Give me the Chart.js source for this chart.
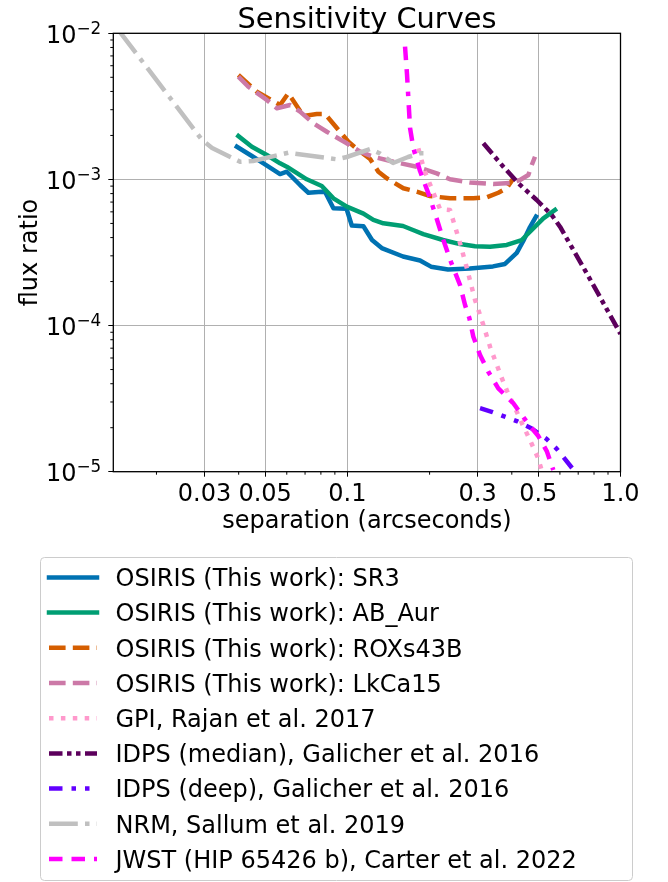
<!DOCTYPE html>
<html>
<head>
<meta charset="utf-8">
<script src="https://cdn.jsdelivr.net/npm/chart.js@4.4.1/dist/chart.umd.min.js"></script>
<style>
  html, body { margin: 0; padding: 0; background: #fff; }
  canvas { display: block; }
</style>
</head>
<body>
<canvas id="sens" width="668" height="882"></canvas>
<script>
// ---- data (separation in arcsec, flux ratio) ----
const sr3Sep  = [0.0394, 0.0447, 0.0493, 0.0567, 0.0600, 0.0671, 0.0720, 0.0806, 0.0829, 0.0889, 0.0993, 0.1038, 0.1145, 0.1231, 0.1336, 0.1599, 0.1845, 0.2024, 0.2336, 0.2812, 0.3414, 0.3777, 0.4170, 0.4406, 0.4663, 0.4905];
const sr3Flux = [1.675e-3, 1.446e-3, 1.289e-3, 1.089e-3, 1.129e-3, 9.16e-4, 8.11e-4, 8.24e-4, 8.20e-4, 6.34e-4, 6.30e-4, 4.84e-4, 4.78e-4, 3.85e-4, 3.39e-4, 2.97e-4, 2.79e-4, 2.53e-4, 2.42e-4, 2.46e-4, 2.54e-4, 2.64e-4, 3.14e-4, 3.79e-4, 4.72e-4, 5.56e-4];

const abAurSep  = [0.0399, 0.0447, 0.0507, 0.0567, 0.0600, 0.0710, 0.0806, 0.0889, 0.0995, 0.1145, 0.1245, 0.1354, 0.1599, 0.1739, 0.1897, 0.2240, 0.2585, 0.2934, 0.3329, 0.3833, 0.4348, 0.4732, 0.5218, 0.5758];
const abAurFlux = [1.982e-3, 1.675e-3, 1.469e-3, 1.289e-3, 1.222e-3, 1.002e-3, 9.02e-4, 7.43e-4, 6.51e-4, 5.84e-4, 5.28e-4, 5.01e-4, 4.80e-4, 4.51e-4, 4.23e-4, 3.85e-4, 3.61e-4, 3.49e-4, 3.46e-4, 3.56e-4, 3.85e-4, 4.51e-4, 5.42e-4, 6.18e-4];

const roxsSep  = [0.0399, 0.0466, 0.0567, 0.0608, 0.0690, 0.0773, 0.0829, 0.1009, 0.1097, 0.1211, 0.1299, 0.1394, 0.1603, 0.1795, 0.2007, 0.2376, 0.2892, 0.3238, 0.3570, 0.3833, 0.4076];
const roxsFlux = [5.18e-3, 3.99e-3, 3.23e-3, 3.89e-3, 2.72e-3, 2.80e-3, 2.80e-3, 1.81e-3, 1.59e-3, 1.38e-3, 1.129e-3, 1.018e-3, 8.70e-4, 8.24e-4, 7.70e-4, 7.43e-4, 7.43e-4, 7.54e-4, 8.11e-4, 8.70e-4, 1.031e-3];

const lkcaSep  = [0.0399, 0.0434, 0.0507, 0.0552, 0.0617, 0.0671, 0.0751, 0.0841, 0.0995, 0.1113, 0.1245, 0.1474, 0.1795, 0.2124, 0.2376, 0.2812, 0.3422, 0.3940, 0.4286, 0.4598, 0.4732, 0.4864];
const lkcaFlux = [5.05e-3, 4.31e-3, 3.50e-3, 3.07e-3, 3.23e-3, 2.91e-3, 2.42e-3, 2.12e-3, 1.767e-3, 1.548e-3, 1.430e-3, 1.322e-3, 1.222e-3, 1.101e-3, 1.002e-3, 9.53e-4, 9.30e-4, 9.45e-4, 9.91e-4, 1.072e-3, 1.256e-3, 1.430e-3];

const gpiSep  = [0.1819, 0.1872, 0.1925, 0.2184, 0.2376, 0.2585, 0.2719, 0.2934, 0.3147, 0.3329, 0.3471, 0.3674, 0.3842, 0.4111, 0.4358, 0.4663, 0.4989, 0.5205];
const gpiFlux = [1.633e-3, 1.337e-3, 1.124e-3, 6.27e-4, 6.18e-4, 3.67e-4, 2.60e-4, 1.496e-4, 1.009e-4, 7.17e-5, 5.81e-5, 4.38e-5, 3.57e-5, 2.73e-5, 2.14e-5, 1.647e-5, 1.241e-5, 9.49e-6];

const idpsMedSep  = [0.3147, 0.3724, 0.4225, 0.4935, 0.5600, 0.6006, 0.6720, 0.7520, 0.8413, 1.0, 1.039];
const idpsMedFlux = [1.767e-3, 1.222e-3, 9.41e-4, 7.23e-4, 5.71e-4, 4.75e-4, 3.29e-4, 2.28e-4, 1.568e-4, 8.76e-5, 7.72e-5];

const idpsDeepSep  = [0.3060, 0.3377, 0.3724, 0.4170, 0.4732, 0.5370, 0.5841, 0.6647];
const idpsDeepFlux = [2.72e-5, 2.57e-5, 2.40e-5, 2.22e-5, 1.975e-5, 1.673e-5, 1.434e-5, 1.060e-5];

const nrmSep  = [0.01451, 0.02938, 0.03197, 0.04048, 0.04516, 0.06081, 0.09146, 0.0995, 0.1211, 0.1317, 0.1470, 0.1668, 0.1845, 0.2007];
const nrmFlux = [1.053e-2, 1.861e-3, 1.641e-3, 1.322e-3, 1.337e-3, 1.524e-3, 1.373e-3, 1.424e-3, 1.615e-3, 1.505e-3, 1.295e-3, 1.424e-3, 1.510e-3, 1.510e-3];

const jwstSep  = [0.1626, 0.1654, 0.1696, 0.1744, 0.1845, 0.1979, 0.2094, 0.2246, 0.2396, 0.2585, 0.2697, 0.2796, 0.2892, 0.3060, 0.3281, 0.3570, 0.4052, 0.4598, 0.5002, 0.5370, 0.5676];
const jwstFlux = [8.10e-3, 5.18e-3, 2.25e-3, 1.641e-3, 1.142e-3, 8.04e-4, 5.86e-4, 3.85e-4, 2.72e-4, 1.894e-4, 1.383e-4, 1.126e-4, 8.39e-5, 6.29e-5, 4.83e-5, 3.72e-5, 2.94e-5, 2.12e-5, 1.754e-5, 1.385e-5, 1.027e-5];

// ---- ticks ----
const xTickValues = [0.03, 0.05, 0.1, 0.3, 0.5, 1.0];
const xTickLabels = ['0.03', '0.05', '0.1', '0.3', '0.5', '1.0'];
const xMinorTicks = [0.02, 0.04, 0.06, 0.07, 0.08, 0.09, 0.2, 0.4, 0.6, 0.7, 0.8, 0.9];
const yTickValues = [1e-5, 1e-4, 1e-3, 1e-2];
const yTickExps   = ['\u22125', '\u22124', '\u22123', '\u22122'];
const yMinorTicks = [2e-5, 3e-5, 4e-5, 5e-5, 6e-5, 7e-5, 8e-5, 9e-5, 2e-4, 3e-4, 4e-4, 5e-4, 6e-4, 7e-4, 8e-4, 9e-4, 2e-3, 3e-3, 4e-3, 5e-3, 6e-3, 7e-3, 8e-3, 9e-3];

const LW = 4.5;
const FONT = '"DejaVu Sans", sans-serif';
const DASHED  = [16.6, 7.2];
const DOTTED  = [4.5, 7.4];
const DASHDOT = [28.8, 7.2, 4.5, 7.2];

const series = [
  { label: 'OSIRIS (This work): SR3',             sep: sr3Sep,      flux: sr3Flux,      color: '#0072B2', dash: [] },
  { label: 'OSIRIS (This work): AB_Aur',          sep: abAurSep,    flux: abAurFlux,    color: '#009E73', dash: [] },
  { label: 'OSIRIS (This work): ROXs43B',         sep: roxsSep,     flux: roxsFlux,     color: '#D55E00', dash: DASHED },
  { label: 'OSIRIS (This work): LkCa15',          sep: lkcaSep,     flux: lkcaFlux,     color: '#CC79A7', dash: DASHED },
  { label: 'GPI, Rajan et al. 2017',              sep: gpiSep,      flux: gpiFlux,      color: '#FF99CC', dash: DOTTED },
  { label: 'IDPS (median), Galicher et al. 2016', sep: idpsMedSep,  flux: idpsMedFlux,  color: '#5C005C', dash: [13.5, 4.5, 4.5, 4.5, 4.5, 4.5] },
  { label: 'IDPS (deep), Galicher et al. 2016',   sep: idpsDeepSep, flux: idpsDeepFlux, color: '#6200FF', dash: [13.5, 9, 4.5, 9, 4.5, 9] },
  { label: 'NRM, Sallum et al. 2019',             sep: nrmSep,      flux: nrmFlux,      color: '#C0C0C0', dash: DASHDOT },
  { label: 'JWST (HIP 65426 b), Carter et al. 2022', sep: jwstSep,  flux: jwstFlux,     color: '#FF00FF', dash: [13.5, 9, 13.5, 9, 4.5, 9] },
];

const datasets = series.map((s, i) => ({
  label: s.label,
  data: s.sep.map((v, k) => ({ x: v, y: s.flux[k] })),
  borderColor: s.color,
  borderWidth: LW,
  borderDash: s.dash,
  borderCapStyle: s.dash.length ? 'butt' : 'square',
  borderJoinStyle: 'round',
  pointRadius: 0,
  tension: 0,
  fill: false,
  clip: 0,
  order: series.length - i,   // later series drawn on top, like matplotlib
}));

function line(ctx, x1, y1, x2, y2) { ctx.beginPath(); ctx.moveTo(x1, y1); ctx.lineTo(x2, y2); ctx.stroke(); }

const decorations = {
  id: 'decorations',
  afterDatasetsDraw(chart) {
    const { ctx, chartArea: a, scales: { x, y } } = chart;
    ctx.save();
    ctx.strokeStyle = '#000';
    ctx.lineWidth = 1;
    xMinorTicks.forEach(v => { const px = x.getPixelForValue(v); line(ctx, px, a.bottom, px, a.bottom + 3); });
    yMinorTicks.forEach(v => { const py = y.getPixelForValue(v); line(ctx, a.left - 3, py, a.left, py); });
    ctx.lineWidth = 1.3;
    ctx.strokeRect(a.left, a.top, a.right - a.left, a.bottom - a.top);
    ctx.restore();
  },
  afterDraw(chart) {
    const { ctx, chartArea: a, scales: { x, y } } = chart;
    const midX = (a.left + a.right) / 2;
    ctx.save();
    ctx.fillStyle = '#000';
    ctx.textBaseline = 'alphabetic';

    // title
    ctx.textAlign = 'center';
    ctx.font = '28.8px ' + FONT;
    ctx.fillText('Sensitivity Curves', midX, 28);

    // x tick labels + axis title
    ctx.font = '24px ' + FONT;
    xTickValues.forEach((v, i) => ctx.fillText(xTickLabels[i], x.getPixelForValue(v), 501));
    ctx.fillText('separation (arcseconds)', midX, 527.5);

    // y tick labels as 10^exp
    yTickValues.forEach((v, i) => {
      const py = y.getPixelForValue(v);
      ctx.textAlign = 'left';
      ctx.font = '16.8px ' + FONT;
      const ew = ctx.measureText(yTickExps[i]).width;
      ctx.font = '24px ' + FONT;
      const bw = ctx.measureText('10').width;
      const right = a.left - 12;
      ctx.fillText('10', right - ew - bw, py + 9.5);
      ctx.font = '16.8px ' + FONT;
      ctx.fillText(yTickExps[i], right - ew, py + 0.5);
    });

    // y axis title
    ctx.font = '24px ' + FONT;
    ctx.translate(36.5, (a.top + a.bottom) / 2);
    ctx.rotate(-Math.PI / 2);
    ctx.textAlign = 'center';
    ctx.fillText('flux ratio', 0, 0);
    ctx.setTransform(1, 0, 0, 1, 0, 0);

    // legend
    const boxL = 40.5, boxT = 557.5, boxR = 632.5, boxB = 880.5, r = 4;
    ctx.beginPath();
    ctx.moveTo(boxL + r, boxT);
    ctx.arcTo(boxR, boxT, boxR, boxB, r);
    ctx.arcTo(boxR, boxB, boxL, boxB, r);
    ctx.arcTo(boxL, boxB, boxL, boxT, r);
    ctx.arcTo(boxL, boxT, boxR, boxT, r);
    ctx.closePath();
    ctx.fillStyle = 'rgba(255,255,255,0.8)';
    ctx.fill();
    ctx.strokeStyle = '#cccccc';
    ctx.lineWidth = 1;
    ctx.stroke();

    ctx.textAlign = 'left';
    ctx.font = '24px ' + FONT;
    series.forEach((s, i) => {
      const yy = 577.4 + i * 35.2;
      ctx.strokeStyle = s.color;
      ctx.lineWidth = LW;
      ctx.setLineDash(s.dash);
      ctx.lineCap = s.dash.length ? 'butt' : 'square';
      line(ctx, 49, yy, 97, yy);
      ctx.setLineDash([]);
      ctx.fillStyle = '#000';
      ctx.fillText(s.label, 115.5, yy + 8.8);
    });
    ctx.restore();
  }
};

const gridStyle = { color: '#b0b0b0', lineWidth: 1, drawTicks: true, tickLength: 5, tickColor: '#000', tickWidth: 1 };

new Chart(document.getElementById('sens'), {
  type: 'line',
  data: { datasets },
  options: {
    responsive: false,
    animation: false,
    devicePixelRatio: 1,
    layout: { padding: { left: 0, top: 33.3, right: 47.5, bottom: 0 } },
    plugins: { legend: { display: false }, title: { display: false }, tooltip: { enabled: false } },
    scales: {
      x: {
        type: 'logarithmic', min: 0.0139, max: 1.0,
        afterBuildTicks: s => { s.ticks = xTickValues.map(v => ({ value: v })); },
        afterFit: s => { s.height = 882 - 471.7; },
        ticks: { display: false },
        grid: gridStyle,
        border: { display: false },
      },
      y: {
        type: 'logarithmic', min: 1e-5, max: 1e-2,
        afterBuildTicks: s => { s.ticks = yTickValues.map(v => ({ value: v })); },
        afterFit: s => { s.width = 113.3; },
        ticks: { display: false },
        grid: gridStyle,
        border: { display: false },
      },
    },
  },
  plugins: [decorations],
});
</script>
</body>
</html>
